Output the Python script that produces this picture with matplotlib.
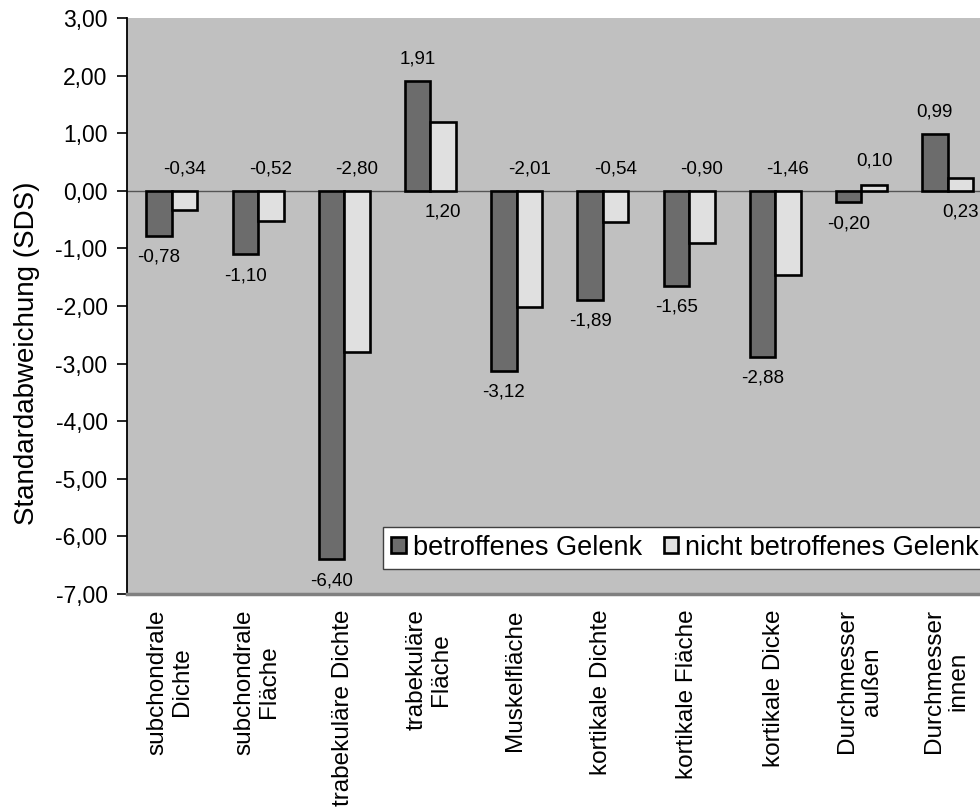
import matplotlib
matplotlib.use("Agg")
import matplotlib.pyplot as plt
import numpy as np

plt.rcParams['font.family'] = ['Liberation Sans', 'DejaVu Sans']

categories = ["subchondrale\nDichte", "subchondrale\nFläche", "trabekuläre Dichte",
              "trabekuläre\nFläche", "Muskelfläche", "kortikale Dichte",
              "kortikale Fläche", "kortikale Dicke", "Durchmesser\naußen",
              "Durchmesser\ninnen"]
betroffen = [-0.78, -1.10, -6.40, 1.91, -3.12, -1.89, -1.65, -2.88, -0.20, 0.99]
nicht_betroffen = [-0.34, -0.52, -2.80, 1.20, -2.01, -0.54, -0.90, -1.46, 0.10, 0.23]
series_names = ["betroffenes Gelenk", "nicht betroffenes Gelenk"]

def de(v):
    return f"{v:.2f}".replace(".", ",")

W, H = 980, 807
fig = plt.figure(figsize=(W / 100, H / 100), dpi=100)
ax = fig.add_axes([127 / W, 1 - 594 / H, 862 / W, 576 / H])
ax.set_facecolor("#c0c0c0")

n = len(categories)
centers = np.arange(n) + 0.52
bw = 0.296
dark = ax.bar(centers - bw / 2, betroffen, bw, color="#6c6c6c", edgecolor="black",
              linewidth=1.9, label=series_names[0], zorder=3)
light = ax.bar(centers + bw / 2, nicht_betroffen, bw, color="#e0e0e0", edgecolor="black",
               linewidth=1.9, label=series_names[1], zorder=3)

ax.axhline(0, color="#555555", linewidth=1.0, zorder=2)

ax.set_xlim(0, n)
ax.set_ylim(-7, 3)
ax.set_yticks(np.arange(-7, 4, 1))
ax.set_yticklabels([de(t) for t in np.arange(-7, 4, 1)], fontsize=16.5)
ax.tick_params(axis="y", direction="out", length=7, width=1.2, pad=7)

ax.set_xticks(np.arange(n) + 0.5)
ax.set_xticklabels(categories, rotation=90, fontsize=17.5, va="top", ha="center",
                   multialignment="center", linespacing=1.15)
ax.tick_params(axis="x", length=0, pad=11)

for s in ["top", "right"]:
    ax.spines[s].set_visible(False)
ax.spines["left"].set_linewidth(1.3)
ax.spines["bottom"].set_color("#808080")
ax.spines["bottom"].set_linewidth(2.5)

ax.text(27 / W, 1 - 353 / H, "Standardabweichung (SDS)", transform=fig.transFigure,
        rotation=90, ha="center", va="center", fontsize=20)

# value labels: dark series at bar end, light series mostly at the base
off = 15.5
for x, v in zip(centers - bw / 2, betroffen):
    ax.annotate(de(v), (x, v), xytext=(0, off if v > 0 else -off), textcoords="offset points",
                ha="center", va="center", fontsize=13.5, zorder=4)
for i, (x, v) in enumerate(zip(centers + bw / 2, nicht_betroffen)):
    if v < 0:
        anchor, dy = 0, off
    elif i == 8:
        anchor, dy = v, off + 1.5
    else:
        anchor, dy = 0, -off
    ax.annotate(de(v), (x, anchor), xytext=(0, dy), textcoords="offset points",
                ha="center", va="center", fontsize=13.5, zorder=4)

leg = ax.legend(loc="lower left", bbox_to_anchor=((383 - 127) / 862, 25 / 576), ncol=2,
                fontsize=19.5, frameon=True, fancybox=False, borderaxespad=0,
                handlelength=0.55, handleheight=0.55, handletextpad=0.25,
                columnspacing=0.8, borderpad=0.3)
leg.get_frame().set_edgecolor("#404040")
leg.get_frame().set_linewidth(1.0)
leg.get_frame().set_facecolor("white")
leg.get_frame().set_alpha(1)
leg.set_zorder(5)

fig.savefig("out.png", dpi=100)
